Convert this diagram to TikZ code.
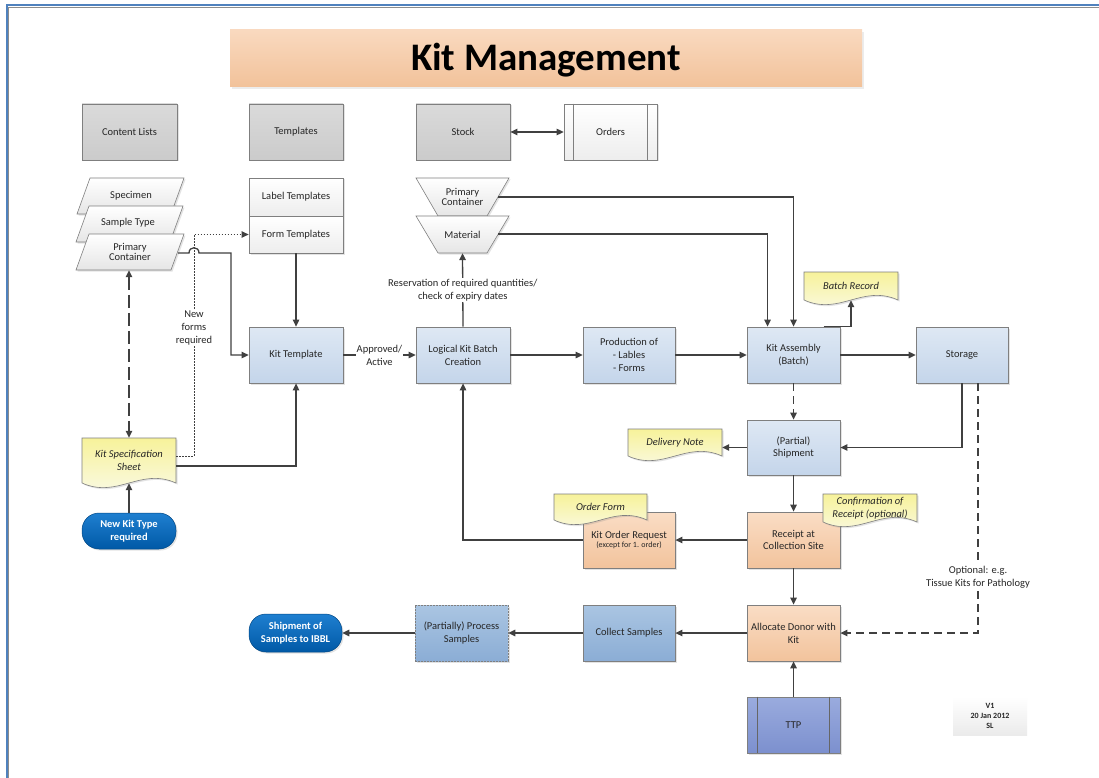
\documentclass[tikz,border=0pt]{standalone}
\usepackage{fontspec}
\setmainfont{Carlito}
\usetikzlibrary{arrows.meta,shadows,calc}

\definecolor{ink}{HTML}{262626}
\definecolor{wire}{HTML}{404040}
\definecolor{edgegray}{HTML}{7F7F7F}
\definecolor{framebl}{HTML}{4F81BD}
\definecolor{blueT}{HTML}{DEE8F4}
\definecolor{blueB}{HTML}{C4D5EA}
\definecolor{peachT}{HTML}{FADDC5}
\definecolor{peachB}{HTML}{F2C39C}
\definecolor{sampT}{HTML}{AAC5E2}
\definecolor{sampB}{HTML}{8BADD5}
\definecolor{ttpT}{HTML}{9AABDE}
\definecolor{ttpB}{HTML}{7C90CE}
\definecolor{pillT}{HTML}{1F7FD0}
\definecolor{pillB}{HTML}{0059A6}
\definecolor{greyT}{HTML}{DADADA}
\definecolor{greyB}{HTML}{CBCBCB}
\definecolor{docT}{HTML}{F7F29A}
\definecolor{docB}{HTML}{FAFAEA}
\definecolor{titleT}{HTML}{F9D9BF}
\definecolor{titleB}{HTML}{F2C29A}

\newcommand\boxfont{\fontsize{10.5}{12.8}\selectfont}
\newcommand\lblfont{\fontsize{10.5}{12.8}\selectfont}

% box given by its corners (x1,y1) and (x2,y2)
\newcommand\placebox[7]{%
  \node[#1, minimum width={(#5)-(#3)}, minimum height={(#6)-(#4)}]
    (#2) at ({(#3+#5)/2},{(#4+#6)/2}) {#7};}

% document shape: straight sides down to y2, wavy bottom edge
\newcommand\docshape[6]{%
  \path[docfill] (#2,#3) -- (#4,#3) -- (#4,#5)
    .. controls ({#2+0.62*(#4-#2)},{#5-16}) and ({#2+0.38*(#4-#2)},{#5+16}) .. (#2,#5) -- cycle;
  \node[doctext, minimum width={(#4)-(#2)}, minimum height={(#5)-(#3)}]
    (#1) at ({(#2+#4)/2},{(#3+#5)/2}) {#6};}

\tikzset{
  shade/.style={drop shadow={shadow xshift=1.5pt, shadow yshift=-1.5pt, opacity=0.22}},
  basebox/.style={draw=edgegray, line width=0.8pt, align=center, inner sep=1pt,
    font=\boxfont, text=ink, shade},
  greybox/.style={basebox, top color=greyT, bottom color=greyB},
  plainbox/.style={basebox, top color=white, bottom color=black!7},
  bluebox/.style={basebox, top color=blueT, bottom color=blueB},
  peachbox/.style={basebox, top color=peachT, bottom color=peachB},
  samplebox/.style={basebox, top color=sampT, bottom color=sampB},
  ttpbox/.style={basebox, top color=ttpT, bottom color=ttpB},
  pillbox/.style={align=center, inner sep=1pt, rounded corners=17pt,
    top color=pillT, bottom color=pillB, draw=pillB!80!black, line width=0.5pt,
    text=white, font=\fontsize{10.5}{12.5}\selectfont\bfseries, shade},
  docfill/.style={draw=edgegray, line width=0.6pt, top color=docT, bottom color=docB, shade},
  doctext/.style={align=center, inner sep=0pt, text=ink, font=\fontsize{10.5}{12.8}\selectfont\itshape},
  slabfill/.style={draw=edgegray, line width=0.6pt, top color=white, bottom color=black!10, shade},
  slabtext/.style={align=center, inner sep=0pt, text=ink, font=\boxfont},
  wirearr/.style={draw=wire, line width=1.3pt, -{Triangle[length=7pt,width=6.5pt]}},
  wireboth/.style={wirearr, {Triangle[length=7pt,width=6.5pt]}-{Triangle[length=7pt,width=6.5pt]}},
  dashwire/.style={wirearr, dash pattern=on 8pt off 5pt},
  longdash/.style={wireboth, dash pattern=on 13pt off 5pt},
  dotwire/.style={draw=wire, line width=1pt, dash pattern=on 1.6pt off 1.4pt,
    -{Triangle[length=7pt,width=6.5pt]}},
  lbl/.style={fill=white, inner sep=1pt, align=center, text=ink, font=\lblfont},
}

\begin{document}
\begin{tikzpicture}[x=1pt,y=-1pt]
\useasboundingbox (0,0) rectangle (1099,778);
\fill[white] (0,0) rectangle (1099,778);

% page frame
\draw[black!45, line width=1pt] (1110,7.3) -- (8.8,7.3) -- (8.8,790);
\draw[framebl, line width=2pt] (1110,5) -- (6.8,5) -- (6.8,790);

% title
\node[top color=titleT, bottom color=titleB, minimum width=632, minimum height=57,
  inner sep=0pt, text height=30pt, text depth=5pt,
  font=\fontsize{39}{41}\selectfont\bfseries, text=black,
  drop shadow={shadow xshift=1.5pt, shadow yshift=-2pt, opacity=0.15}]
  (title) at (546,58.5) {Kit Management};

% header boxes
\placebox{greybox}{clists}{82}{104}{177}{160}{Content Lists}
\placebox{greybox}{tmpls}{249}{104}{343}{160}{Templates}
\placebox{greybox}{stock}{416}{104}{510}{160}{Stock}
\placebox{plainbox}{orders}{564}{104}{657}{160}{Orders}
\draw[edgegray, line width=0.8pt] ([xshift=10pt]orders.north west) -- ([xshift=10pt]orders.south west);
\draw[edgegray, line width=0.8pt] ([xshift=-10pt]orders.north east) -- ([xshift=-10pt]orders.south east);

% content list stack
\path[slabfill] (90,178) -- (184,178) -- (171,214) -- (77,214) -- cycle;
\node[slabtext] (spec) at (131,196) {Specimen};
\path[slabfill] (89,206) -- (183,206) -- (170,242) -- (76,242) -- cycle;
\node[slabtext] (stype) at (128,223) {Sample Type};
\path[slabfill] (89,234) -- (184,234) -- (171,270) -- (76,270) -- cycle;
\node[slabtext, minimum width=108, minimum height=36] (cpc) at (130,252) {Primary\\[-2.5pt]Container};
\coordinate (cpcE) at (178,253);

% templates stack
\placebox{plainbox}{ltmpl}{249}{178}{343}{216}{Label Templates}
\placebox{plainbox}{ftmpl}{249}{216}{343}{253}{Form Templates}

% stock stack
\path[slabfill] (416,178) -- (509,178) -- (487,216) -- (438,216) -- cycle;
\node[slabtext, minimum width=93, minimum height=38] (spc) at (462.5,197) {Primary\\[-2.5pt]Container};
\path[slabfill] (416,216) -- (509,216) -- (487,253) -- (438,253) -- cycle;
\node[slabtext, minimum width=93, minimum height=37] (smat) at (462.5,234.5) {Material};
\coordinate (spcE) at (498,197);
\coordinate (smatE) at (498,234);

% process boxes
\placebox{bluebox}{ktmpl}{249}{327}{343}{383}{Kit Template}
\placebox{bluebox}{lkb}{416}{327}{510}{383}{Logical Kit Batch\\Creation}
\placebox{bluebox}{prod}{583}{327}{675}{383}{Production of\\- Lables\\- Forms}
\placebox{bluebox}{kasm}{747}{327}{840}{383}{Kit Assembly\\(Batch)}
\placebox{bluebox}{stor}{916}{327}{1008}{383}{Storage}
\placebox{bluebox}{ship}{747}{420}{840}{475}{(Partial)\\Shipment}
\placebox{peachbox}{rcpt}{747}{512}{840}{568}{Receipt at\\Collection Site}
\placebox{peachbox}{kor}{583}{512}{675}{568}{Kit Order Request\\[-3pt]{\fontsize{8}{9}\selectfont (except for 1. order)}}
\placebox{peachbox}{alloc}{747}{605}{840}{661}{Allocate Donor with\\Kit}
\placebox{samplebox}{coll}{583}{605}{675}{661}{Collect Samples}
\placebox{samplebox, dash pattern=on 2pt off 1pt, line width=0.6pt}{proc}{415}{605}{508}{661}{(Partially) Process\\Samples}
\placebox{ttpbox}{ttp}{747}{697}{840}{753}{TTP}
\draw[wire!80, line width=0.8pt] ([xshift=11pt]ttp.north west) -- ([xshift=11pt]ttp.south west);
\draw[wire!80, line width=0.8pt] ([xshift=-11pt]ttp.north east) -- ([xshift=-11pt]ttp.south east);

% terminators
\placebox{pillbox}{ibbl}{249}{614}{342}{652}{Shipment of\\Samples to IBBL}
\placebox{pillbox}{newkit}{82}{513}{176}{549}{New Kit Type\\required}

% documents
\docshape{kspec}{82}{438}{176}{483}{Kit Specification\\Sheet}
\docshape{brec}{804}{272}{898}{300}{Batch Record}
\docshape{dnote}{628}{429}{722}{456}{Delivery Note}
\docshape{conf}{823}{494}{917}{522}{Confirmation of\\Receipt (optional)}

% version stamp
\node[top color=white, bottom color=black!8, minimum width=74, minimum height=38,
  inner sep=0pt, align=center, text=ink, font=\fontsize{8}{10}\selectfont\bfseries]
  (ver) at (990,716) {V1\\20 Jan 2012\\SL};

% connectors
\coordinate (dv) at (194,0);
\coordinate (hopx) at (231,0);
\draw[wireboth] (stock.east) -- (orders.west);
\draw[longdash] (kspec.north |- cpc.south) -- (kspec.north);
\draw[wirearr] (newkit.north) -- (kspec.south);
\draw[wirearr] ([yshift=-5.5pt]kspec.east) -| (ktmpl.south);
\draw[dotwire] ([yshift=4.5pt]kspec.east) -| (ftmpl.west -| dv) -- (ftmpl.west);
\node[lbl] (newforms) at (194,328) {New\\forms\\required};
\draw[wirearr] (cpcE) -- (189,253) .. controls (189,246) and (199,246) .. (199,253)
  -- (cpcE -| hopx) |- (ktmpl.west);
\draw[wirearr] (ftmpl.south) -- (ktmpl.north);
\draw[wirearr] (ktmpl.east) -- node[lbl] (appr) {Approved/\\Active} (lkb.west);
\draw[wirearr] (lkb.north) -- node[lbl] (resv) {Reservation of required quantities/\\check of expiry dates} (smat.south);
\draw[wirearr] (lkb.east) -- (prod.west);
\draw[wirearr] (prod.east) -- (kasm.west);
\draw[wirearr] (kasm.east) -- (stor.west);
\draw[wirearr] (spcE) -| (kasm.north);
\draw[wirearr] (smatE) -| ([xshift=-26pt]kasm.north);
\draw[wirearr] ([xshift=30pt]kasm.north) -| (brec.south);
\draw[dashwire] (kasm.south) -- (ship.north);
\draw[wirearr] (ship.west) -- (ship.west -| dnote.east);
\draw[wirearr] (stor.south) |- (ship.east);
\draw[dashwire] ([xshift=16pt]stor.south) |- (alloc.east);
\node[lbl] (optnote) at (978,577) {Optional: e.g.\\Tissue Kits for Pathology};
\draw[wirearr] (ship.south) -- (rcpt.north);
\draw[wirearr] (rcpt.west) -- (kor.east);
\draw[wirearr] (kor.west) -| (lkb.south);
\draw[wirearr] (rcpt.south) -- (alloc.north);
\draw[wirearr] (alloc.west) -- (coll.east);
\draw[wirearr] (coll.west) -- (proc.east);
\draw[wirearr] (proc.west) -- (ibbl.east);
\draw[wirearr] (ttp.north) -- (alloc.south);

% order form sits over its request box
\docshape{oform}{554}{494}{647}{520}{Order Form}
\end{tikzpicture}
\end{document}
